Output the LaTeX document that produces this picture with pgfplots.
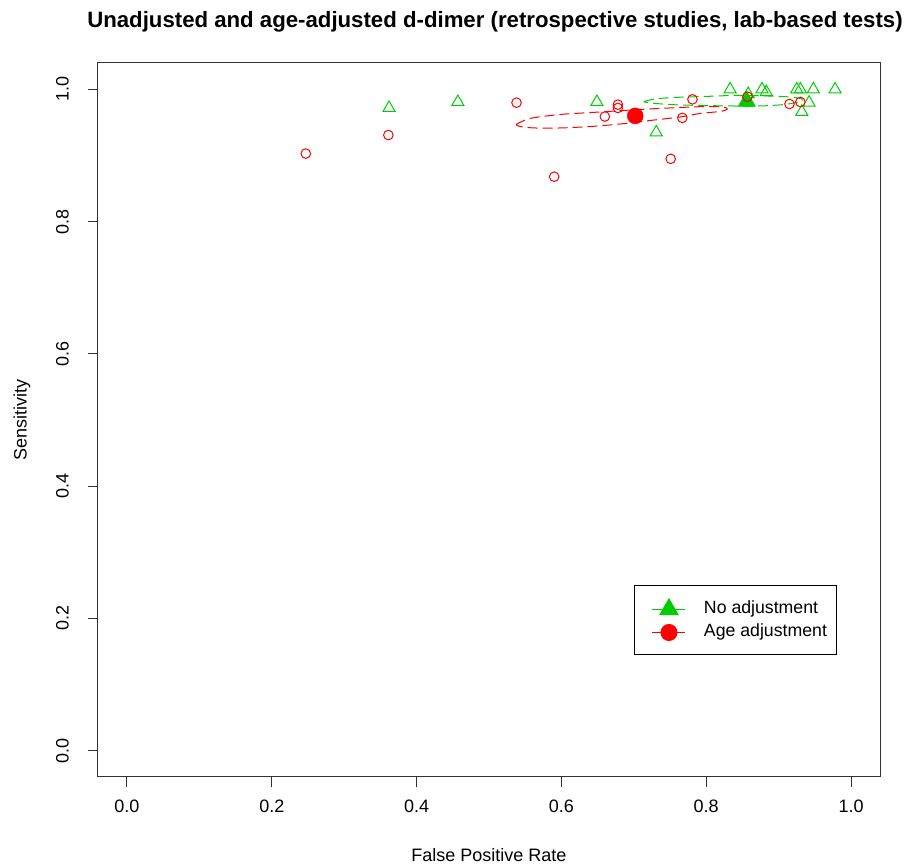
\documentclass[border=0pt]{standalone}
\usepackage{pgfplots}
\pgfplotsset{compat=1.18}
\usepackage{fontspec}
\setmainfont{Liberation Sans}
\definecolor{rgreen}{HTML}{00CD00}
\definecolor{rred}{HTML}{FF0000}
\begin{document}
\begin{tikzpicture}[x=1pt,y=1pt]
\useasboundingbox (0,0) rectangle (906,867);
\begin{axis}[
  at={(98pt,90pt)}, anchor=south west,
  scale only axis, width=782pt, height=714pt,
  xmin=-0.04, xmax=1.04, ymin=-0.04, ymax=1.04,
  axis line style={line width=1pt, black!80},
  tick pos=left, tick align=outside, major tick length=10pt,
  tick style={line width=1pt, black!80},
  xtick={0,0.2,0.4,0.6,0.8,1}, xticklabels={0.0,0.2,0.4,0.6,0.8,1.0},
  ytick={0,0.2,0.4,0.6,0.8,1}, yticklabels={0.0,0.2,0.4,0.6,0.8,1.0},
  xticklabel style={font=\fontsize{18}{20}\selectfont, anchor=north, inner sep=0pt, yshift=-12.5pt},
  yticklabel style={font=\fontsize{18}{20}\selectfont, xshift=-19pt, rotate=90, anchor=south, inner sep=0pt},
  legend style={at={(0.6854,0.2689)}, anchor=north west, draw=black, line width=1pt, fill=white,
    inner xsep=10pt, inner ysep=13.5pt, row sep=6pt, column sep=18pt,
    font=\fontsize{17.7}{20}\selectfont,
    nodes={inner sep=0pt, text height=13pt, text depth=4pt}},
  legend cell align=left,
  legend image code/.code={
    \draw[draw=none] (-8pt,0pt) -- (0pt,0pt);
    \draw[mark repeat=2,mark phase=2] plot coordinates {(0pt,0pt) (16.5pt,0pt) (33pt,0pt)};
  },
]
\addlegendimage{rgreen, line width=1pt, mark=triangle*, mark size=10.5pt}
\addlegendentry{No adjustment}
\addlegendimage{rred, line width=1pt, mark=*, mark size=8pt}
\addlegendentry{Age adjustment}

% green confidence ellipse (no adjustment)
\addplot[rgreen, line width=1pt, dash pattern=on 10pt off 5pt, smooth, forget plot] coordinates {
(0.7141,0.9818) (0.7293,0.9856) (0.7569,0.9879) (0.7983,0.9894) (0.8398,0.9909)
(0.8812,0.9902) (0.9157,0.9886) (0.9323,0.9856) (0.9296,0.9818) (0.9088,0.9773)
(0.8743,0.9750) (0.8329,0.9750) (0.7914,0.9758) (0.7569,0.9768) (0.7293,0.9788)
(0.7169,0.9803) (0.7141,0.9818)};
% green studies
\addplot[only marks, rgreen, mark=triangle, mark size=7pt, mark options={line width=1pt}, forget plot] coordinates {
(0.362,0.972) (0.457,0.981) (0.649,0.981) (0.731,0.935) (0.833,1.000)
(0.877,1.000) (0.883,0.996) (0.925,1.000) (0.930,1.000) (0.948,1.000)
(0.978,1.000) (0.942,0.980) (0.932,0.966) (0.858,0.993)};
% green summary
\addplot[only marks, rgreen, mark=triangle*, mark size=10pt, forget plot] coordinates {(0.856,0.982)};

% red confidence ellipse (age adjustment)
\addplot[rred, line width=1pt, dash pattern=on 10pt off 5pt, smooth, forget plot] coordinates {
(0.5373,0.9470) (0.5566,0.9561) (0.5981,0.9621) (0.6533,0.9659) (0.7086,0.9697)
(0.7638,0.9727) (0.8052,0.9742) (0.8260,0.9727) (0.8287,0.9697) (0.8191,0.9667)
(0.7914,0.9636) (0.7638,0.9583) (0.7224,0.9530) (0.6809,0.9477) (0.6395,0.9439)
(0.5981,0.9417) (0.5635,0.9417) (0.5428,0.9439) (0.5373,0.9470)};
% red studies
\addplot[only marks, rred, mark=o, mark size=4.8pt, mark options={line width=1pt}, forget plot] coordinates {
(0.247,0.903) (0.361,0.931) (0.538,0.980) (0.590,0.868) (0.660,0.959)
(0.678,0.977) (0.678,0.972) (0.751,0.895) (0.767,0.957) (0.781,0.985)
(0.857,0.989) (0.915,0.978) (0.930,0.981)};
% red summary
\addplot[only marks, rred, mark=*, mark size=8pt, forget plot] coordinates {(0.702,0.960)};
\end{axis}
\node[font=\bfseries\fontsize{22.2}{24}\selectfont] at (495,845) {Unadjusted and age-adjusted d-dimer (retrospective studies, lab-based tests)};
\node[font=\fontsize{18}{20}\selectfont] at (489,12) {False Positive Rate};
\node[font=\fontsize{18}{20}\selectfont, rotate=90] at (22,447) {Sensitivity};
\end{tikzpicture}
\end{document}
